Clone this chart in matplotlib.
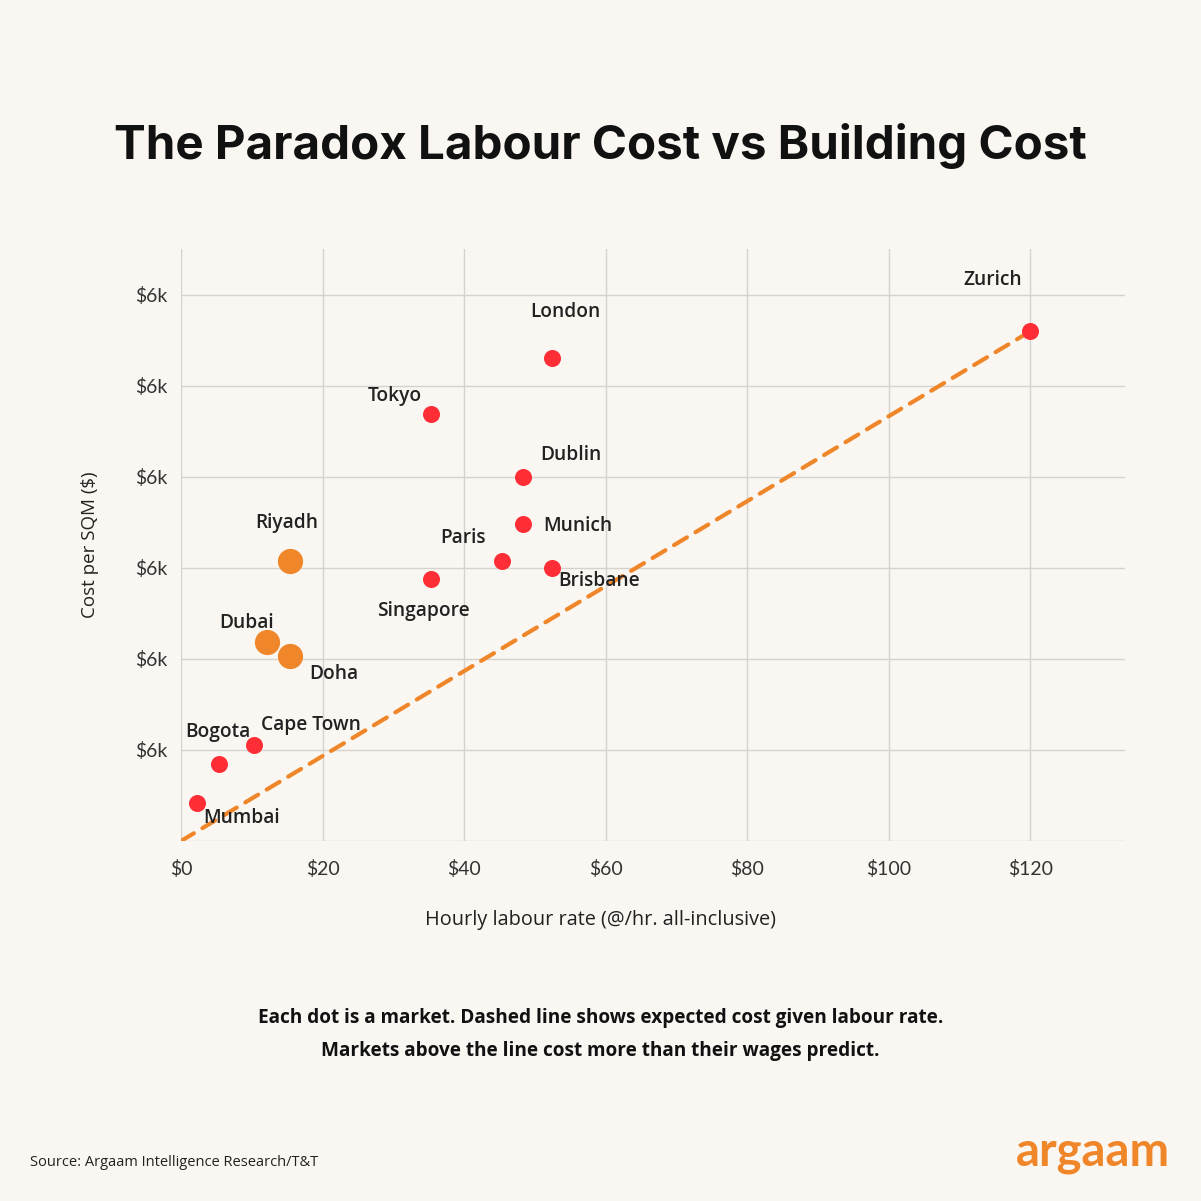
import matplotlib.pyplot as plt
import numpy as np

# market data (labour rate $/hr, cost per sqm in $k)
cities = ["Zurich", "London", "Tokyo", "Dublin", "Munich", "Paris", "Brisbane",
          "Singapore", "Riyadh", "Dubai", "Doha", "Cape Town", "Bogota", "Mumbai"]
labour = [120, 52.4, 35.3, 48.3, 48.3, 45.4, 52.4, 35.3, 15.4, 12.2, 15.4, 10.3, 5.4, 2.3]
cost = [5.60, 5.31, 4.69, 4.00, 3.48, 3.08, 3.00, 2.88, 3.08, 2.19, 2.03, 1.05, 0.85, 0.42]
gulf = ["Riyadh", "Dubai", "Doha"]

# expected cost line
line_x = [0, 120]
line_y = [0, 5.6]

x_ticks = [0, 20, 40, 60, 80, 100, 120]
x_labels = ["$0", "$20", "$40", "$60", "$80", "$100", "$120"]
y_ticks = [1, 2, 3, 4, 5, 6]
y_labels = ["$6k"] * 6

# label offsets in pixels (dx, dy) from each dot
label_off = {
    "Zurich": (-37, 51), "London": (14, 46), "Tokyo": (-36, 18), "Dublin": (48, 22),
    "Munich": (55, -2), "Paris": (-39, 23), "Brisbane": (47, -13), "Singapore": (-7, -32),
    "Riyadh": (-3, 38), "Dubai": (-21, 19), "Doha": (44, -18), "Cape Town": (57, 20),
    "Bogota": (-1, 32), "Mumbai": (44, -15),
}

BG = "#FAF7F2"
RED = "#FF2D35"
ORANGE = "#F0862A"
TXT = "#222222"

fig = plt.figure(figsize=(12.01, 12.01), dpi=100, facecolor=BG)
ax = fig.add_axes([181 / 1201, 1 - 841 / 1201, (1125 - 181) / 1201, (841 - 249) / 1201])
ax.set_facecolor(BG)

ax.plot(line_x, line_y, color=ORANGE, lw=3.0, dashes=(3.6, 2.4), dash_capstyle="round", zorder=2)

for c, x, y in zip(cities, labour, cost):
    if c in gulf:
        ax.scatter(x, y, s=330, color=ORANGE, zorder=3, linewidths=0)
    else:
        ax.scatter(x, y, s=150, color=RED, zorder=3, linewidths=0)
    dx, dy = label_off[c]
    ax.annotate(c, (x, y), xytext=(dx, dy), textcoords="offset pixels",
                ha="center", va="center", fontsize=13.8, fontweight="semibold",
                family="Open Sans", color=TXT, zorder=4)

ax.set_xlim(0, 133.4)
ax.set_ylim(0, 6.505)
ax.set_xticks(x_ticks)
ax.set_xticklabels(x_labels)
ax.set_yticks([0] + y_ticks)
ax.set_yticklabels([""] + y_labels)
ax.grid(True, color="#D6D3CE", lw=1.0, zorder=0)
for s in ax.spines.values():
    s.set_visible(False)
ax.tick_params(length=0, labelsize=14, labelcolor="#333333", pad=10)
ax.tick_params(axis="x", pad=14)
for t in ax.get_xticklabels() + ax.get_yticklabels():
    t.set_family("Lato")

ax.set_ylabel("Cost per SQM ($)", fontsize=13.5, family="Open Sans", fontweight="medium",
              color=TXT, labelpad=26)

fig.text(0.5, 1 - 146 / 1201, "The Paradox Labour Cost vs Building Cost", ha="center", va="center",
         fontsize=34.2, fontweight="bold", family="Inter", color="#111111")
fig.text(0.5, 1 - 920 / 1201, "Hourly labour rate (@/hr. all-inclusive)", ha="center", va="center",
         fontsize=14.3, family="Open Sans", fontweight="medium", color=TXT)
fig.text(0.5, 1 - 1018 / 1201, "Each dot is a market. Dashed line shows expected cost given labour rate.",
         ha="center", va="center", fontsize=13.7, family="Open Sans", fontweight="bold", color="#111111")
fig.text(0.5, 1 - 1051 / 1201, "Markets above the line cost more than their wages predict.",
         ha="center", va="center", fontsize=13.7, family="Open Sans", fontweight="bold", color="#111111")
fig.text(30 / 1201, 1 - 1162 / 1201, "Source: Argaam Intelligence Research/T&T", ha="left", va="center",
         fontsize=10.5, family="Open Sans", color=TXT)
fig.text(1170 / 1201, 1 - 1152 / 1201, "argaam", ha="right", va="center",
         fontsize=34, fontweight="bold", family="Lato", color=ORANGE)

fig.savefig("out.png", dpi=100, facecolor=BG)
